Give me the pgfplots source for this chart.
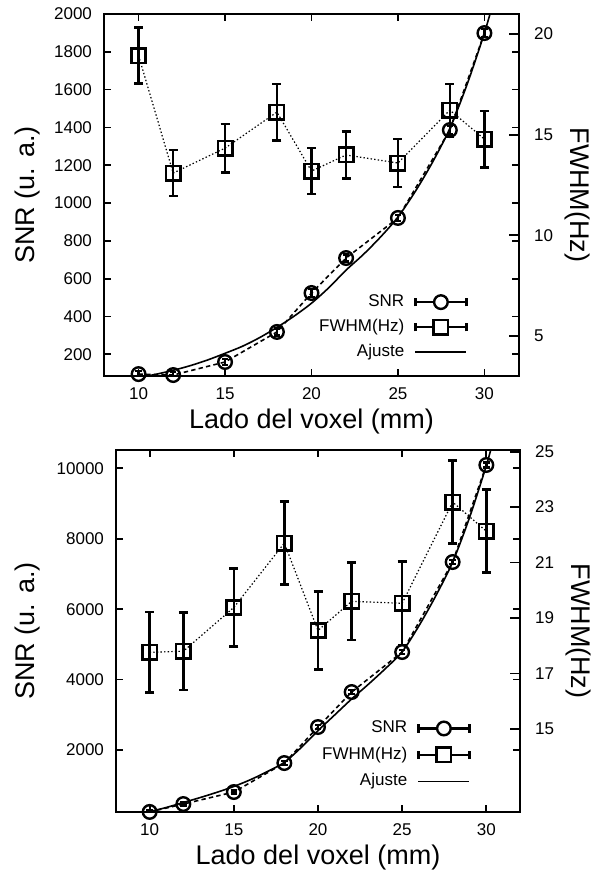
\documentclass[border=0pt]{standalone}
\usepackage{fontspec}
\setmainfont{Liberation Sans}
\usepackage{pgfplots}
\usepackage{pgfplotstable}
\pgfplotsset{compat=1.18}

% panel superior
\pgfplotstableread{
x y e
10 95 15
12 90 15
15 159 15
18 318 18
20 524 20
22 709 18
25 921 15
28 1386 20
30 1899 20
}\snrA
\pgfplotstableread{
x y e
10 18.93 1.39
12 13.09 1.15
15 14.33 1.2
18 16.12 1.4
20 13.19 1.15
22 13.99 1.17
25 13.59 1.2
28 16.22 1.3
30 14.78 1.4
}\fwhmA
\pgfplotstableread{
x y
10 75
11 94
12 115
13 140
14 170
15 205
16 242
17 288
18 342
19 402
20 470
21 552
22 645
23 728
24 821
25 926
26 1061
27 1216
28 1395
29 1628
30 1900
30.6 2090
}\fitA

% panel inferior
\pgfplotstableread{
x y e
10 242 40
12 466 40
15 807 40
18 1630 50
20 2653 50
22 3647 50
25 4783 50
28 7339 60
30 10094 70
}\snrB
\pgfplotstableread{
x y e
10 17.76 1.45
12 17.8 1.4
15 19.38 1.4
18 21.70 1.5
20 18.55 1.4
22 19.6 1.4
25 19.53 1.5
28 23.18 1.5
30 22.13 1.5
}\fwhmB
\pgfplotstableread{
x y
10 250
11 370
12 510
13 650
14 800
15 965
16 1160
17 1390
18 1650
19 2070
20 2550
21 3000
22 3450
23 3870
24 4310
25 4790
26 5530
27 6380
28 7340
29 8600
30 10080
30.5 10950
}\fitB

\pgfplotsset{
  gp/.style={
    scale only axis, xmin=8, xmax=32,
    axis line style={line width=0.9pt},
    tick style={line width=0.9pt, black},
    major tick length=3.5pt,
    tick label style={font=\fontsize{8.5}{10}\selectfont},
    /pgf/number format/assume math mode=true,
    /pgf/number format/1000 sep={},
    scaled ticks=false,
    clip mode=individual,
    label style={font=\fontsize{13.5}{16}\selectfont},
    legend style={draw=none, fill=none, font=\fontsize{8.5}{10}\selectfont,
      nodes={inner sep=0pt, text height=6.3pt, text depth=2.2pt},
      column sep=5pt},
    legend cell align=right, legend plot pos=right,
  },
  fitline/.style={black, line width=0.8pt, smooth, no marks},
  snr/.style={black, line width=0.8pt, dash pattern=on 2.2pt off 1.6pt,
    mark=o, mark size=3.4pt, mark options={solid, line width=1.2pt},
    error bars/y dir=both, error bars/y explicit,
    error bars/error bar style={solid, line width=1.2pt},
    error bars/error mark options={rotate=90, mark size=1.6pt, line width=1.2pt, solid}},
  fwhm/.style={black, line width=0.6pt, dash pattern=on 0.7pt off 1.1pt,
    mark=square, mark size=3.6pt, mark options={solid, line width=1.3pt},
    error bars/y dir=both, error bars/y explicit,
    error bars/error bar style={solid, line width=1.3pt},
    error bars/error mark options={rotate=90, mark size=2.25pt, line width=1.3pt, solid}},
  snrleg/.style={legend image code/.code={
    \draw[line width=1.2pt] (0pt,0pt) -- (25.5pt,0pt);
    \draw[line width=1.2pt] (0pt,-2.1pt) -- (0pt,2.1pt);
    \draw[line width=1.2pt] (25.5pt,-2.1pt) -- (25.5pt,2.1pt);
    \draw[line width=1.2pt, fill=white] (12.75pt,0pt) circle (3.4pt);
  }},
  fwhmleg/.style={legend image code/.code={
    \draw[line width=1.2pt] (0pt,0pt) -- (25.5pt,0pt);
    \draw[line width=1.2pt] (0pt,-2.1pt) -- (0pt,2.1pt);
    \draw[line width=1.2pt] (25.5pt,-2.1pt) -- (25.5pt,2.1pt);
    \draw[line width=1.3pt, fill=white] (9.15pt,-3.6pt) rectangle (16.35pt,3.6pt);
  }},
  fitleg/.style={legend image code/.code={
    \draw[line width=0.8pt] (0pt,0pt) -- (25.5pt,0pt);
  }},
}

\begin{document}
\begin{tikzpicture}
\useasboundingbox (0pt,0pt) rectangle (296pt,436pt);

% ---------- superior ----------
\begin{axis}[gp, at={(52pt,248pt)}, anchor=south west,
  width=207.5pt, height=181pt,
  ymin=85, ymax=2000,
  xtick={10,15,20,25,30},
  ytick={200,400,...,2000},
  xticklabel style={yshift=-2.5pt},
  yticklabel style={xshift=-2.5pt},
  xlabel={Lado del voxel (mm)},
  xlabel style={at={(axis description cs:0.5,-0.127)}, anchor=center},
  ylabel={SNR (u. a.)},
  ylabel style={at={(axis description cs:-0.1855,0.5)}, anchor=center},
]
\addplot[fitline] table[x=x, y=y] {\fitA};
\addplot[snr] table[x=x, y=y, y error=e] {\snrA};
\end{axis}
\begin{axis}[gp, at={(52pt,248pt)}, anchor=south west,
  width=207.5pt, height=181pt,
  ymin=3, ymax=21,
  axis y line*=right, axis x line=none,
  major tick length=5pt,
  ytick={5,10,15,20},
  yticklabel style={xshift=4pt},
  ylabel={FWHM(Hz)},
  ylabel style={at={(axis description cs:1.142,0.5)}, anchor=center, rotate=180},
  legend style={at={(axis description cs:0.8916,0.135)}, anchor=east, row sep=4pt},
]
\addplot[forget plot, fwhm] table[x=x, y=y, y error=e] {\fwhmA};
\addlegendimage{snrleg}
\addlegendentry{SNR}
\addlegendimage{fwhmleg}
\addlegendentry{FWHM(Hz)}
\addlegendimage{fitleg}
\addlegendentry{Ajuste}
\end{axis}

% ---------- inferior ----------
\begin{axis}[gp, at={(58pt,30pt)}, anchor=south west,
  width=202pt, height=181pt,
  ymin=240, ymax=10520,
  xtick={10,15,20,25,30},
  ytick={2000,4000,...,10000},
  xticklabel style={yshift=-2.5pt},
  yticklabel style={xshift=-2.5pt},
  xlabel={Lado del voxel (mm)},
  xlabel style={at={(axis description cs:0.5,-0.127)}, anchor=center},
  ylabel={SNR (u. a.)},
  ylabel style={at={(axis description cs:-0.22,0.5)}, anchor=center},
]
\addplot[fitline] table[x=x, y=y] {\fitB};
\addplot[snr] table[x=x, y=y, y error=e] {\snrB};
\end{axis}
\begin{axis}[gp, at={(58pt,30pt)}, anchor=south west,
  width=202pt, height=181pt,
  ymin=12, ymax=25.06,
  axis y line*=right, axis x line=none,
  major tick length=5pt,
  ytick={15,17,19,21,23,25},
  yticklabel style={xshift=4pt},
  ylabel={FWHM(Hz)},
  ylabel style={at={(axis description cs:1.1436,0.5)}, anchor=center, rotate=180},
  legend style={at={(axis description cs:0.8936,0.1575)}, anchor=east, row sep=4.75pt},
]
\addplot[forget plot, fwhm] table[x=x, y=y, y error=e] {\fwhmB};
\addlegendimage{snrleg}
\addlegendentry{SNR}
\addlegendimage{fwhmleg}
\addlegendentry{FWHM(Hz)}
\addlegendimage{fitleg}
\addlegendentry{Ajuste}
\end{axis}
\end{tikzpicture}
\end{document}
